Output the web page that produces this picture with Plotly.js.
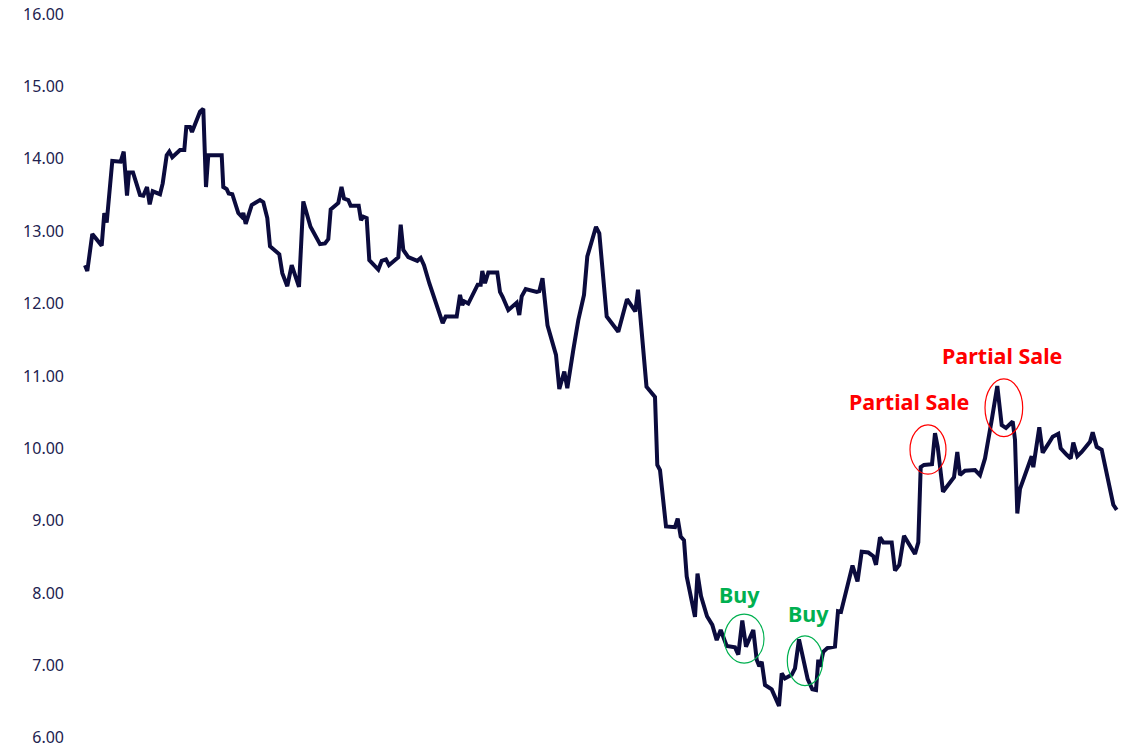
<!DOCTYPE html>
<html>
<head>
<meta charset="utf-8">
<script src="https://cdn.plot.ly/plotly-3.0.1.min.js"></script>
<style>html,body{margin:0;padding:0;background:#fff;}#chart{width:1128px;height:748px;}</style>
</head>
<body>
<div id="chart"></div>
<script>
// Position along the time axis (trading-day position)
const days = [85,87.3,92.3,101.7,104.3,106.7,112.3,120.7,123.7,127,129,133,140,143.3,147,149.7,152.7,160,162.7,166.7,169.3,172.3,180,184.3,186.3,190,192,200,203.3,206,208.3,221.7,223.3,226.7,228.7,232.3,238.3,241.7,243.3,245.7,251.7,260,263.3,267.3,270,279.3,282.3,287.3,291.7,299,303.3,310.5,320,325,328.3,330.7,338.3,341.5,344,348.3,350.7,358.7,361,363.3,366.7,369.3,378.3,381.7,386,389,398.3,400.7,403.3,408.3,417.3,420.7,424,429.3,442.7,445.7,456.7,460,462.3,464.3,468.3,477.7,480.7,482.3,485,488.3,497.3,500,502.7,508.3,516.7,519.3,521.7,525.7,536.7,539.3,542.5,547.5,556,559.3,564.3,567.3,573.3,578.3,584,587.3,596,599.3,606.7,618.3,627,635.3,638,646.5,655,657.3,660,666,675,677.7,680.7,684,686.7,695,697.5,701,707,712.3,716.7,720.7,726.7,735,738.3,742.3,746,753.3,756.7,759.3,761.7,765,771.7,776,779,781.7,785,791.7,795,799,803.3,807.7,812.3,816,818.3,820,823.3,827.3,835,838,841,852.5,857.5,861.7,868.3,873.3,876,880,883.3,891.7,895,899.3,904,915,918.3,920.7,924,932,935,937.7,943,951.7,954,957.3,960,965,975,980,985,991.7,997.3,1001.7,1006,1012.7,1015,1017.3,1020,1031.7,1033.3,1039.3,1042.7,1048.3,1052.7,1058.3,1060.7,1066.7,1070.7,1073.3,1077.3,1081.7,1090,1092.7,1096.7,1101.7,1113.3,1116.7];

const prices = [12.53,12.45,12.96,12.80,13.25,13.12,13.97,13.96,14.10,13.49,13.81,13.81,13.50,13.49,13.61,13.37,13.55,13.51,13.66,14.05,14.10,14.02,14.12,14.12,14.44,14.44,14.37,14.65,14.69,13.61,14.05,14.05,13.61,13.58,13.52,13.51,13.25,13.20,13.25,13.10,13.36,13.43,13.40,13.18,12.79,12.68,12.42,12.24,12.53,12.23,13.41,13.06,12.82,12.83,12.89,13.30,13.39,13.61,13.45,13.43,13.35,13.35,13.15,13.20,13.18,12.60,12.47,12.59,12.61,12.53,12.64,13.09,12.74,12.64,12.59,12.63,12.53,12.28,11.73,11.82,11.82,12.12,11.98,12.03,12.00,12.26,12.26,12.45,12.28,12.43,12.43,12.16,12.09,11.91,12.01,11.84,12.10,12.20,12.16,12.17,12.35,11.70,11.29,10.82,11.06,10.83,11.36,11.77,12.12,12.65,13.06,12.97,11.82,11.61,12.06,11.89,12.19,10.85,10.71,9.77,9.70,8.92,8.91,9.03,8.78,8.73,8.23,7.67,8.27,7.96,7.68,7.56,7.35,7.49,7.27,7.25,7.15,7.62,7.26,7.49,7.08,6.99,7.05,6.73,6.67,6.52,6.44,6.89,6.82,6.87,6.96,7.36,7.08,6.81,6.67,6.66,7.08,6.98,7.19,7.24,7.26,7.75,7.74,8.38,8.16,8.57,8.56,8.51,8.39,8.77,8.70,8.70,8.31,8.39,8.79,8.54,8.70,9.74,9.77,9.78,10.21,10.02,9.40,9.57,9.60,9.95,9.63,9.69,9.70,9.63,9.86,10.39,10.86,10.32,10.28,10.37,10.12,9.10,9.44,9.89,9.74,10.29,9.94,10.06,10.16,10.20,10.00,9.91,9.86,10.08,9.89,9.95,10.09,10.22,10.02,9.98,9.22,9.15];

const yTicks = [6,7,8,9,10,11,12,13,14,15,16];
const yTickText = ["6.00","7.00","8.00","9.00","10.00","11.00","12.00","13.00","14.00","15.00","16.00"];

const signalLabels = ["Buy","Buy","Partial Sale","Partial Sale"];

const trace = {
  x: days, y: prices, type: 'scatter', mode: 'lines',
  line: {color: '#0b0b3d', width: 4, shape: 'linear'},
  hoverinfo: 'skip'
};

const green = '#00b050', red = '#ff0000';
const annFont = (c) => ({family: 'Noto Sans, sans-serif', size: 21.5, color: c});

const layout = {
  width: 1128, height: 748,
  margin: {l: 72, r: 0, t: 14, b: 8},
  paper_bgcolor: '#fff', plot_bgcolor: '#fff',
  showlegend: false,
  xaxis: {range: [72, 1128], visible: false, showgrid: false, zeroline: false},
  yaxis: {
    range: [5.97, 16], tickvals: yTicks, ticktext: yTickText,
    showgrid: false, zeroline: false, showline: false, ticks: '',
    tickfont: {family: 'Noto Sans, sans-serif', size: 16, color: '#22224f'},
    ticklabelstandoff: 7, ticklabeloverflow: 'allow'
  },
  shapes: [
    {type: 'circle', xref: 'x', yref: 'y', x0: 724.3, x1: 764, y0: 7.032, y1: 7.709, line: {color: green, width: 1.2}},
    {type: 'circle', xref: 'x', yref: 'y', x0: 787.3, x1: 822.7, y0: 6.722, y1: 7.409, line: {color: green, width: 1.2}},
    {type: 'circle', xref: 'x', yref: 'y', x0: 910, x1: 946, y0: 9.642, y1: 10.323, line: {color: red, width: 1.2}},
    {type: 'circle', xref: 'x', yref: 'y', x0: 985, x1: 1022.7, y0: 10.162, y1: 10.959, line: {color: red, width: 1.2}}
  ],
  annotations: [
    {x: 739, y: 7.975, text: '<b>' + signalLabels[0] + '</b>', showarrow: false, font: annFont(green)},
    {x: 808, y: 7.713, text: '<b>' + signalLabels[1] + '</b>', showarrow: false, font: annFont(green)},
    {x: 909, y: 10.641, text: '<b>' + signalLabels[2] + '</b>', showarrow: false, font: annFont(red)},
    {x: 1002, y: 11.276, text: '<b>' + signalLabels[3] + '</b>', showarrow: false, font: annFont(red)}
  ]
};

Plotly.newPlot('chart', [trace], layout, {displayModeBar: false, staticPlot: true});
</script>
</body>
</html>
